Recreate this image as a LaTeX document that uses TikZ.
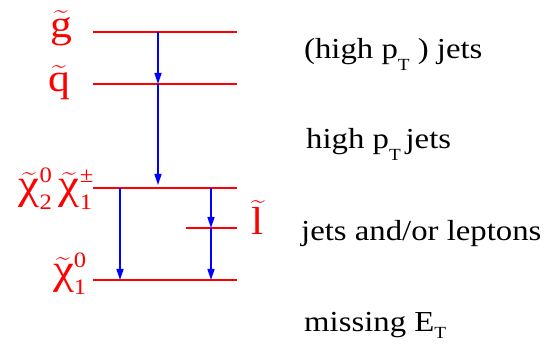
\documentclass[tikz,border=0pt]{standalone}
\usepackage{amsmath}
\usepackage{fontspec}
\setmainfont{Liberation Serif}
\newfontfamily\sigfont{Liberation Serif}[FakeStretch=1.13]
\newfontfamily\lblfont{Liberation Serif}[FakeStretch=1.12]
\usetikzlibrary{arrows.meta}
\definecolor{lvlR}{RGB}{255,0,0}
\definecolor{decB}{RGB}{0,0,255}
\newcommand{\idxfont}{\fontsize{22}{22}\selectfont}
\newcommand{\spart}[1]{$\widetilde{\text{#1}}$}
\newcommand{\ino}[2]{{\fontsize{42}{44}\selectfont$\widetilde{\text{χ}}^{\mbox{\idxfont #1}}_{\mbox{\idxfont #2}}$}}
\newcommand{\lowT}[1]{\raisebox{-#1}{\fontsize{17}{17}\selectfont T}}

\begin{document}
\begin{tikzpicture}[x=1pt,y=-1pt,>={Triangle[length=11pt,width=7pt]},
  level/.style={lvlR,line width=1.6pt},
  decay/.style={->,decB,line width=1.6pt},
  plabel/.style={lvlR,font=\lblfont\fontsize{39}{42}\selectfont,inner sep=0pt},
  sig/.style={anchor=base west,font=\sigfont\fontsize{29}{32}\selectfont,inner sep=0pt}]
\useasboundingbox (0,0) rectangle (550,344);
% mass levels
\draw[level] (93,32) -- (237,32);
\draw[level] (93,84) -- (237,84);
\draw[level] (93,188) -- (237,188);
\draw[level] (186,228) -- (237,228);
\draw[level] (93,280) -- (237,280);
% arrow ends on the levels
\coordinate (g-a) at (158,32);
\coordinate (q-a) at (158,84);
\coordinate (c-a) at (158,188);
\coordinate (c-b) at (120,188);
\coordinate (c-c) at (211,188);
\coordinate (l-c) at (211,228);
\coordinate (n-b) at (120,280);
\coordinate (n-c) at (211,280);
% decays
\draw[decay] (g-a) -- (q-a);
\draw[decay,shorten >=3pt] (q-a) -- (c-a);
\draw[decay] (c-b) -- (n-b);
\draw[decay] (c-c) -- (l-c);
\draw[decay] (l-c) -- (n-c);
% particle labels
\node[plabel,anchor=base] (gluino) at (61,38) {\spart{g}};
\node[plabel,anchor=base] (squark) at (59,92) {\spart{q}};
\node[plabel,anchor=base east] (chargino) at (94,199) {\ino{0}{2}\,\ino{±}{1}};
\node[plabel,anchor=base] (slepton) at (258,235) {\spart{l}};
\node[plabel,anchor=base east] (lsp) at (87,284) {\ino{0}{1}};
% signatures
\node[sig] (sig-g) at (304,59) {(high p\lowT{12pt} ) jets};
\node[sig] (sig-q) at (306,149) {high p\lowT{12pt}\,jets};
\node[sig] (sig-c) at (301,241) {jets and/or leptons};
\node[sig] (sig-n) at (304,332) {missing E\lowT{7pt}};
\end{tikzpicture}
\end{document}
